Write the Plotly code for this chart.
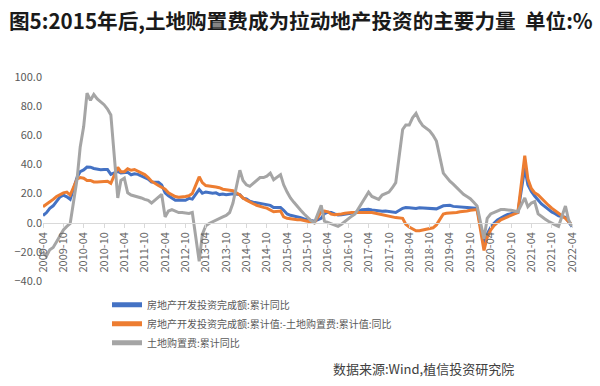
import plotly.graph_objects as go

# Wind monthly cumulative data (January not published) : 2009-04 .. 2022-04
years = list(range(2009, 2023))

invest_yoy = {  # 房地产开发投资完成额:累计同比
    2009: [4.9, 6.8, 9.9, 11.6, 14.7, 17.7, 18.9, 17.8, 16.1],
    2010: [31.1, 35.1, 36.2, 38.2, 38.1, 37.2, 36.7, 36.4, 36.5, 36.5, 33.2],
    2011: [35.2, 34.1, 34.3, 34.6, 32.9, 33.6, 33.2, 32.0, 31.1, 29.9, 27.9],
    2012: [27.8, 26.0, 20.5, 18.5, 16.6, 15.4, 15.6, 15.4, 15.4, 16.7, 16.2],
    2013: [22.8, 20.2, 21.1, 20.6, 20.3, 20.5, 19.3, 19.7, 19.2, 19.5, 19.8],
    2014: [19.3, 16.8, 16.4, 14.7, 14.1, 13.7, 13.2, 12.5, 12.4, 11.9, 10.5],
    2015: [10.4, 8.5, 6.0, 5.1, 4.6, 4.3, 3.5, 2.6, 2.0, 1.3, 1.0],
    2016: [3.0, 6.2, 7.2, 7.0, 6.1, 5.3, 5.4, 5.8, 6.6, 6.5, 6.9],
    2017: [8.9, 9.1, 9.3, 8.8, 8.5, 7.9, 7.9, 8.1, 7.8, 7.5, 7.0],
    2018: [9.9, 10.4, 10.3, 10.2, 9.7, 10.2, 10.1, 9.9, 9.7, 9.7, 9.5],
    2019: [11.6, 11.8, 11.9, 11.2, 10.9, 10.6, 10.5, 10.5, 10.3, 10.2, 9.9],
    2020: [-15.0, -7.7, -3.3, -0.3, 1.9, 3.4, 4.6, 5.6, 6.3, 6.8, 7.0],
    2021: [37.5, 26.0, 21.5, 18.3, 15.2, 12.9, 11.0, 9.0, 7.4, 6.2, 4.8],
    2022: [3.7, 0.7, -2.7],
}

ex_land_yoy = {  # 房地产开发投资完成额:累计值-土地购置费:累计值:同比
    2009: [11.0, 12.5, 14.0, 16.0, 18.0, 19.5, 20.5, 21.0, 19.0],
    2010: [30.0, 31.0, 30.5, 29.0, 29.0, 28.0, 28.0, 28.0, 28.0, 28.5, 27.0],
    2011: [38.0, 35.0, 35.0, 37.0, 36.0, 36.5, 35.5, 34.5, 33.0, 31.0, 28.5],
    2012: [25.5, 24.0, 23.0, 20.5, 19.0, 18.0, 17.5, 17.5, 18.0, 18.5, 20.0],
    2013: [31.5, 27.5, 25.5, 25.0, 25.0, 24.5, 24.0, 23.0, 22.7, 22.5, 22.0],
    2014: [19.0, 17.0, 15.5, 14.0, 13.0, 12.0, 11.0, 10.5, 10.0, 9.0, 7.5],
    2015: [8.0, 4.0, 3.0, 2.5, 2.5, 2.0, 2.0, 1.5, 1.0, 0.5, 0.0],
    2016: [7.5, 8.0, 7.5, 6.0, 5.5, 5.5, 6.0, 6.5, 7.0, 7.0, 7.0],
    2017: [7.0, 7.5, 7.5, 7.0, 6.5, 6.0, 5.5, 5.0, 4.5, 4.0, 3.5],
    2018: [3.0, -1.0, -3.0, -4.0, -5.5, -5.5, -5.0, -5.0, -4.5, -3.5, -1.5],
    2019: [6.0, 6.5, 6.5, 7.0, 7.0, 7.5, 7.5, 8.0, 8.5, 8.5, 9.0],
    2020: [-19.0, -10.0, -5.0, -2.0, 0.0, 2.0, 3.0, 4.0, 5.0, 6.0, 7.0],
    2021: [46.0, 30.0, 23.5, 20.5, 19.0, 16.5, 14.5, 12.0, 10.0, 8.4, 6.5],
    2022: [3.0, 0.5, -1.5],
}

land_yoy = {  # 土地购置费:累计同比
    2009: [-20.0, -23.0, -18.5, -17.0, -13.0, -9.0, -5.0, -2.5, -0.5],
    2010: [30.0, 52.0, 66.0, 89.0, 84.0, 88.0, 85.0, 83.0, 81.0, 78.0, 74.0],
    2011: [17.0, 29.0, 30.5, 20.5, 19.0, 18.5, 18.0, 17.0, 16.0, 15.3, 13.5],
    2012: [18.0, 19.5, 4.0, 8.0, 9.0, 8.0, 7.0, 7.0, 6.5, 6.3, 7.0],
    2013: [-26.5, -8.0, -2.0, -0.5, 0.5, 1.5, 2.5, 4.0, 5.0, 7.0, 13.5],
    2014: [36.0, 29.0, 26.0, 25.0, 27.0, 29.0, 31.0, 31.0, 32.0, 34.0, 29.5],
    2015: [33.0, 26.0, 21.0, 17.0, 14.0, 11.0, 8.5, 6.0, 3.5, 1.5, 0.0],
    2016: [12.0, 1.0, 0.0, -1.0, -1.5, -2.5, -1.0, 1.0, 3.0, 4.5, 6.0],
    2017: [14.0, 17.0, 21.0, 18.0, 17.0, 16.0, 19.0, 20.0, 21.0, 24.0, 27.5],
    2018: [64.0, 67.0, 67.0, 72.0, 75.0, 70.0, 66.5, 65.0, 63.0, 60.0, 56.0],
    2019: [34.0, 31.0, 28.5, 26.5, 24.0, 21.5, 19.5, 18.0, 16.5, 14.0, 11.5],
    2020: [-11.0, 3.0, 6.0, 7.0, 8.0, 9.0, 9.0, 9.0, 8.5, 8.0, 7.5],
    2021: [17.0, 11.0, 13.5, 14.5, 6.0, 4.0, 2.5, 1.0, -0.5, -1.5, -2.5],
    2022: [11.5, 2.0, -2.5],
}

first_month = {2009: 4}
last_month = {2022: 4}

y_ticks = [-40, -20, 0, 20, 40, 60, 80, 100]

names = ["房地产开发投资完成额:累计同比",
         "房地产开发投资完成额:累计值:-土地购置费:累计值:同比",
         "土地购置费:累计同比"]
colors = ["#4472C4", "#ED7D31", "#A5A5A5"]


def month_list(y):
    start = first_month.get(y, 2)
    end = last_month.get(y, 12)
    return [f"{y}-{m:02d}-01" for m in range(start, end + 1)]


dates = []
for y in years:
    dates += month_list(y)


def flatten(d):
    out = []
    for y in years:
        out += d[y]
    return out


series = [flatten(invest_yoy), flatten(ex_land_yoy), flatten(land_yoy)]

fig = go.Figure()
for name, vals, col in zip(names, series, colors):
    fig.add_trace(go.Scatter(x=dates, y=vals, mode="lines", name=name,
                             line=dict(color=col, width=3)))

FONT = "Noto Sans CJK SC"
fig.update_layout(
    width=600, height=386,
    margin=dict(l=43, r=28, t=77, b=105),
    paper_bgcolor="white", plot_bgcolor="white",
    font=dict(family=FONT, size=11, color="#595959"),
    showlegend=True,
    legend=dict(x=(107 - 43) / 529, xanchor="left", y=-0.045, yanchor="top",
                font=dict(size=10, color="#595959"), tracegroupgap=0,
                itemsizing="constant",
                bgcolor="rgba(0,0,0,0)"),
    xaxis=dict(type="date", range=["2009-04-01", "2022-04-01"],
               tick0="2009-04-01", dtick="M6", tickformat="%Y-%m",
               tickangle=-90, anchor="free", position=40 / 140,
               showline=True, linecolor="#D9D9D9", linewidth=1,
               ticks="outside", ticklen=4, tickcolor="#D9D9D9",
               showgrid=False, zeroline=False,
               tickfont=dict(size=11, color="#666666")),
    yaxis=dict(range=[-40, 100], tickvals=y_ticks, tickformat=".1f",
               showgrid=False, zeroline=False, showline=False,
               tickfont=dict(size=11, color="#595959")),
)

fig.add_annotation(text="<b>图5:2015年后,土地购置费成为拉动地产投资的主要力量  单位:%</b>",
                   xref="paper", yref="paper", x=(7 - 43) / 529, y=(281 - 20) / 204,
                   xanchor="left", yanchor="middle", showarrow=False,
                   font=dict(family=FONT, size=20.6, color="#1a1a1a"))
fig.add_annotation(text="数据来源:Wind,植信投资研究院",
                   xref="paper", yref="paper", x=(516 - 43) / 529, y=(281 - 368) / 204,
                   xanchor="right", yanchor="middle", showarrow=False,
                   font=dict(family=FONT, size=13, color="#404040"))

fig.write_html("out.html", config={"displayModeBar": False},
               post_script="document.body.style.margin='0';document.body.style.overflow='hidden';")
